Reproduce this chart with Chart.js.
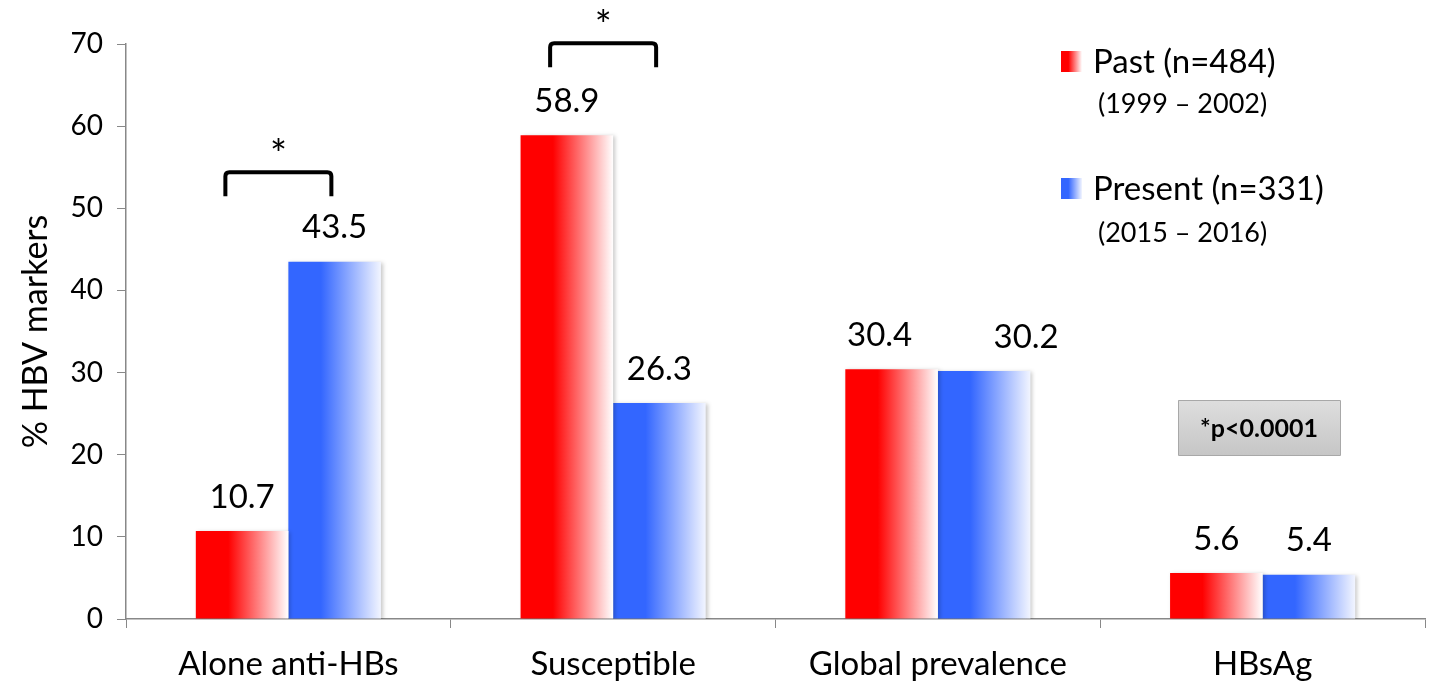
<!DOCTYPE html>
<html>
<head>
<meta charset="utf-8">
<script src="https://cdn.jsdelivr.net/npm/chart.js@4/dist/chart.umd.min.js"></script>
<style>
  html, body { margin: 0; padding: 0; background: #fff; }
  #c { display: block; }
</style>
</head>
<body>
<canvas id="c" width="1453" height="684"></canvas>
<script>
// data
const categories = ["Alone anti-HBs", "Susceptible", "Global prevalence", "HBsAg"];
const pastValues = [10.7, 58.9, 30.4, 5.6];
const presentValues = [43.5, 26.3, 30.2, 5.4];
const yTicks = [0, 10, 20, 30, 40, 50, 60, 70];
// significance brackets: category index and bracket top value
const brackets = [
    { cat: 0, top: 54.4 },
    { cat: 1, top: 70.1 }
];

const FONT = "Lato, 'Open Sans', sans-serif";
const RED = "#ff0000";
const BLUE = "#3366ff";
// value labels nudged sideways in the original (dataset-category)
const labelShift = { "0-2": -12, "1-2": 42 };

// gradient fill per bar (solid on the left, fading to white on the right)
const gradientBars = {
    id: "gradientBars",
    beforeDatasetsDraw(chart) {
        const ctx = chart.ctx;
        chart.data.datasets.forEach((ds, di) => {
            const meta = chart.getDatasetMeta(di);
            meta.data.forEach(el => {
                const x0 = el.x - el.width / 2, x1 = el.x + el.width / 2;
                const g = ctx.createLinearGradient(x0, 0, x1, 0);
                const c = di === 0 ? RED : BLUE;
                g.addColorStop(0, c);
                g.addColorStop(0.35, c);
                g.addColorStop(1, di === 0 ? "#ffffff" : "#f2f5ff");
                // options objects are shared between bars, so give each its own
                el.options = Object.assign({}, el.options, { backgroundColor: g });
            });
        });
        ctx.save();
        ctx.shadowColor = "rgba(0,0,0,0.22)";
        ctx.shadowBlur = 4;
        ctx.shadowOffsetX = 2;
        ctx.shadowOffsetY = 1;
    },
    afterDatasetsDraw(chart) {
        chart.ctx.restore();
    }
};

// value labels, brackets, legend and p-value box
const extras = {
    id: "extras",
    afterDraw(chart) {
        const ctx = chart.ctx;
        const x = chart.scales.x, y = chart.scales.y;

        ctx.save();
        ctx.fillStyle = "#000";
        ctx.textAlign = "center";
        ctx.textBaseline = "middle";
        ctx.font = "33px " + FONT;
        chart.data.datasets.forEach((ds, di) => {
            chart.getDatasetMeta(di).data.forEach((el, i) => {
                const dx = labelShift[di + "-" + i] || 0;
                ctx.fillText(ds.data[i].toFixed(1), el.x + dx, el.y - 34);
            });
        });

        // brackets with asterisks
        ctx.strokeStyle = "#000";
        ctx.lineWidth = 4;
        ctx.lineJoin = "round";
        brackets.forEach(b => {
            const cx = x.getPixelForValue(b.cat);
            const top = y.getPixelForValue(b.top);
            const l = cx - 63, r = cx + 43;
            ctx.beginPath();
            ctx.moveTo(l, top + 24);
            ctx.lineTo(l, top + 4);
            ctx.quadraticCurveTo(l, top, l + 4, top);
            ctx.lineTo(r - 4, top);
            ctx.quadraticCurveTo(r, top, r, top + 4);
            ctx.lineTo(r, top + 24);
            ctx.stroke();
            ctx.font = "40px " + FONT;
            ctx.fillText("*", (l + r) / 2, top - 16);
        });

        // legend
        const swatch = (sx, sy, c, end) => {
            const g = ctx.createLinearGradient(sx, 0, sx + 21, 0);
            g.addColorStop(0, c);
            g.addColorStop(0.35, c);
            g.addColorStop(1, end);
            ctx.fillStyle = g;
            ctx.fillRect(sx, sy, 21, 21);
        };
        swatch(1061, 51, RED, "#ffffff");
        swatch(1061, 178, BLUE, "#f2f5ff");
        ctx.fillStyle = "#000";
        ctx.textAlign = "left";
        ctx.font = "33px " + FONT;
        ctx.fillText("Past (n=484)", 1093, 62);
        ctx.fillText("Present (n=331)", 1093, 189);
        ctx.font = "27px " + FONT;
        ctx.fillText("(1999 \u2013 2002)", 1098, 104);
        ctx.fillText("(2015 \u2013 2016)", 1098, 233);

        // p-value box
        const bx = 1178, by = 400, bw = 162, bh = 55;
        const pg = ctx.createLinearGradient(0, by, 0, by + bh);
        pg.addColorStop(0, "#dedede");
        pg.addColorStop(1, "#c6c6c6");
        ctx.fillStyle = pg;
        ctx.fillRect(bx, by, bw, bh);
        ctx.strokeStyle = "#a8a8a8";
        ctx.lineWidth = 1;
        ctx.strokeRect(bx + 0.5, by + 0.5, bw, bh);
        ctx.fillStyle = "#000";
        ctx.textAlign = "center";
        ctx.font = "bold 25px " + FONT;
        ctx.fillText("*p<0.0001", bx + bw / 2, by + bh / 2 + 1);
        ctx.restore();
    }
};

new Chart(document.getElementById("c"), {
    type: "bar",
    data: {
        labels: categories,
        datasets: [
            { label: "Past (n=484)", data: pastValues, backgroundColor: RED },
            { label: "Present (n=331)", data: presentValues, backgroundColor: BLUE }
        ]
    },
    options: {
        responsive: false,
        animation: false,
        devicePixelRatio: 1,
        layout: { padding: { top: 44, right: 28, left: 0, bottom: 0 } },
        datasets: { bar: { categoryPercentage: 0.57, barPercentage: 1.0 } },
        plugins: { legend: { display: false }, tooltip: { enabled: false } },
        scales: {
            x: {
                grid: { display: true, drawOnChartArea: false, offset: true, color: "#888", tickLength: 9 },
                border: { color: "#888", width: 1.5 },
                ticks: { color: "#000", font: { family: FONT, size: 33 }, padding: 17 },
                afterFit(s) { s.height = 65; }
            },
            y: {
                min: 0, max: 70,
                afterBuildTicks(s) { s.ticks = yTicks.map(v => ({ value: v })); },
                grid: { display: true, drawOnChartArea: false, color: "#888", tickLength: 9 },
                border: { color: "#888", width: 1.5 },
                ticks: { color: "#000", font: { family: FONT, size: 28 }, padding: 14 },
                title: { display: true, text: "% HBV markers", color: "#000", font: { family: FONT, size: 34 }, padding: { top: 16, bottom: 0 } },
                afterFit(s) { s.width = 126; }
            }
        }
    },
    plugins: [gradientBars, extras]
});
</script>
</body>
</html>
